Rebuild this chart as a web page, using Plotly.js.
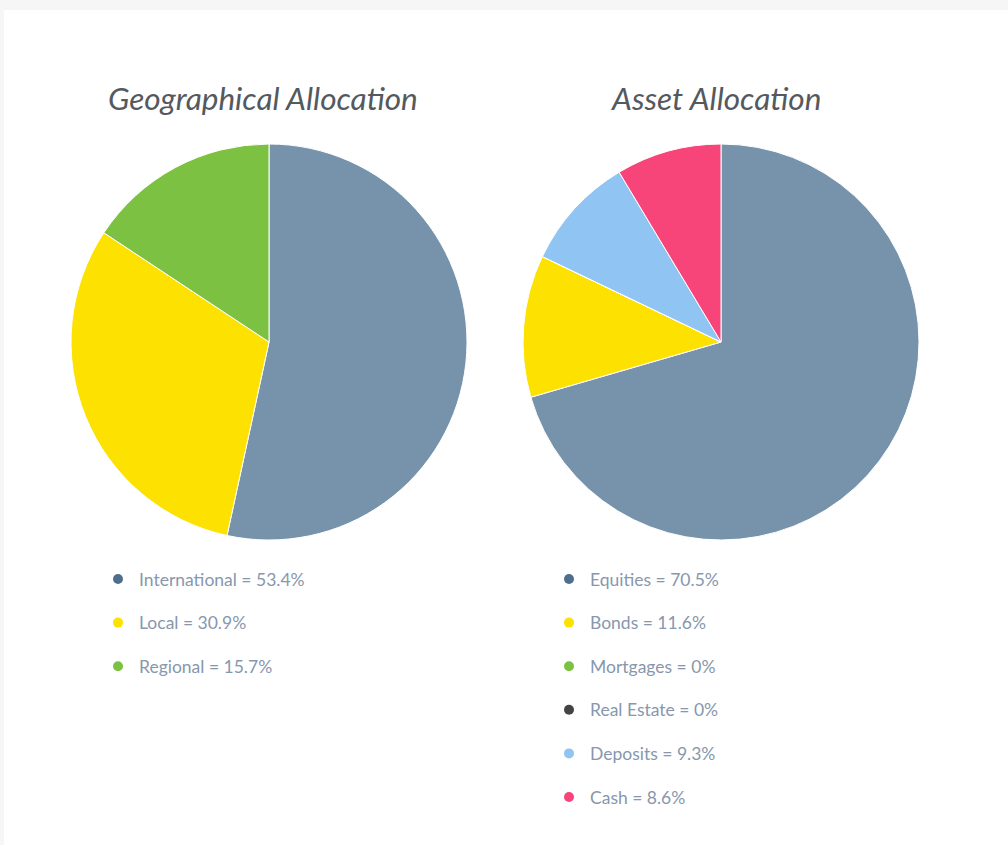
<!DOCTYPE html>
<html><head><meta charset="utf-8">
<script src="https://cdn.plot.ly/plotly-3.0.1.min.js"></script>
<style>html,body{margin:0;padding:0;background:#fff;}#chart{width:1008px;height:845px;}</style>
</head><body><div id="chart"></div>
<script>
// Data
const geoTitle = "Geographical Allocation";
const geoLabels = ["International", "Local", "Regional"];
const geoValues = [53.4, 30.9, 15.7];
const geoColors = ["#7793ab", "#fde100", "#7cc142"];
const geoDotColors = ["#4e6e8e", "#fde100", "#7cc142"];

const assetTitle = "Asset Allocation";
const assetLabels = ["Equities", "Bonds", "Mortgages", "Real Estate", "Deposits", "Cash"];
const assetValues = [70.5, 11.6, 0, 0, 9.3, 8.6];
const assetColors = ["#7793ab", "#fde100", "#7cc142", "#444444", "#90c5f3", "#f74479"];
const assetDotColors = ["#4e6e8e", "#fde100", "#7cc142", "#444444", "#90c5f3", "#f74479"];

const W = 1008, H = 845;
const px = x => x / W;
const py = y => (H - y) / H;

const pies = [
  {title: geoTitle, labels: geoLabels, values: geoValues, colors: geoColors, dots: geoDotColors, cx: 269, cy: 342, r: 198, legX: 118},
  {title: assetTitle, labels: assetLabels, values: assetValues, colors: assetColors, dots: assetDotColors, cx: 721, cy: 342, r: 198, legX: 569}
];

const traces = [];
const annotations = [];
const shapes = [
  {type: "rect", xref: "paper", yref: "paper", x0: 0, x1: 1, y0: py(10), y1: 1, fillcolor: "#f6f6f6", line: {width: 0}, layer: "below"},
  {type: "rect", xref: "paper", yref: "paper", x0: 0, x1: px(4), y0: 0, y1: 1, fillcolor: "#f6f6f6", line: {width: 0}, layer: "below"}
];

pies.forEach(p => {
  traces.push({
    type: "pie",
    labels: p.labels,
    values: p.values,
    sort: false,
    direction: "clockwise",
    rotation: 0,
    marker: {colors: p.colors, line: {color: "#ffffff", width: 1}},
    textinfo: "none",
    hoverinfo: "label+percent",
    showlegend: false,
    domain: {x: [px(p.cx - p.r), px(p.cx + p.r)], y: [py(p.cy + p.r), py(p.cy - p.r)]}
  });
  annotations.push({
    xref: "paper", yref: "paper", x: px(p.cx - 6), y: py(98),
    xanchor: "center", yanchor: "middle", showarrow: false,
    text: "<i>" + p.title + "</i>",
    font: {family: "Lato, 'Open Sans', sans-serif", size: 31.5, color: "#54595f"}
  });
  p.labels.forEach((lab, i) => {
    const y = 579 + i * 43.6;
    annotations.push({
      xref: "paper", yref: "paper", x: px(p.legX + 19), y: py(y),
      xanchor: "left", yanchor: "middle", showarrow: false,
      text: lab + " = " + p.values[i] + "%",
      font: {family: "Lato, 'Open Sans', sans-serif", size: 17.5, color: "#8797ad"}
    });
    shapes.push({
      type: "circle", xref: "paper", yref: "paper",
      x0: px(p.legX - 5), x1: px(p.legX + 5), y0: py(y + 5), y1: py(y - 5),
      fillcolor: p.dots[i], line: {width: 0}
    });
  });
});

Plotly.newPlot("chart", traces, {
  width: W, height: H,
  margin: {l: 0, r: 0, t: 0, b: 0},
  paper_bgcolor: "#ffffff",
  showlegend: false,
  annotations: annotations,
  shapes: shapes
}, {displayModeBar: false, staticPlot: true});
</script></body></html>
